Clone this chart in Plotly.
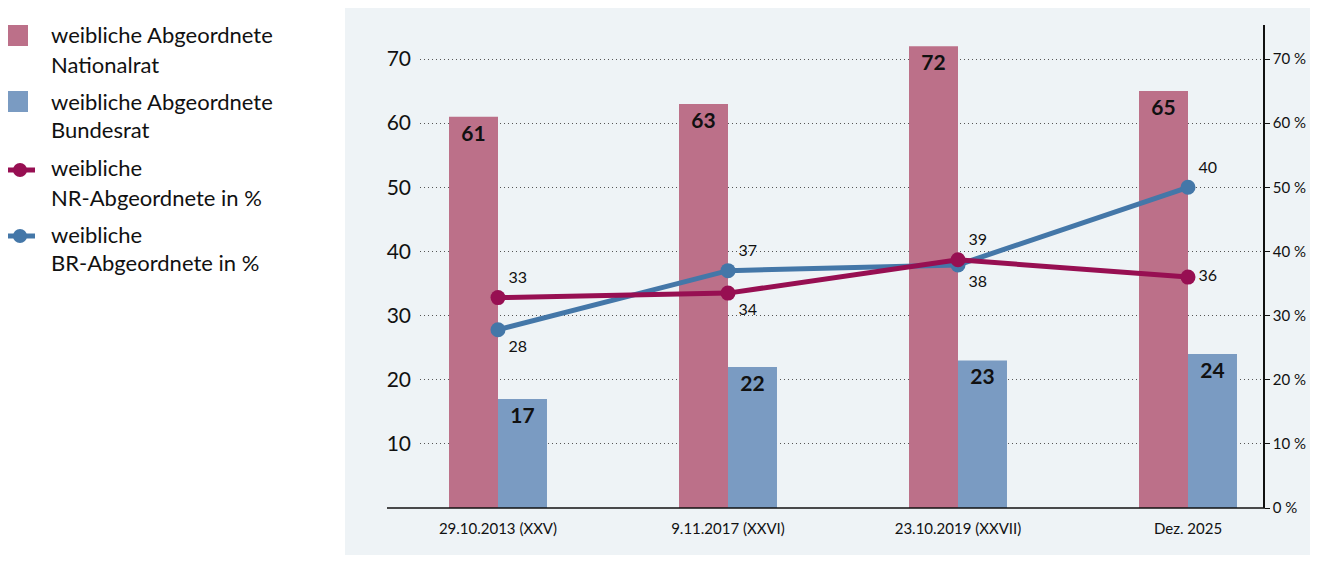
"""Frauenanteil im Parlament: Balken (Anzahl) und Linien (Anteil in %)."""

import plotly.graph_objects as go

# --- data -----------------------------------------------------------------
categories = ["29.10.2013 (XXV)", "9.11.2017 (XXVI)", "23.10.2019 (XXVII)", "Dez. 2025"]
nr_count = [61, 63, 72, 65]
br_count = [17, 22, 23, 24]
# line points as drawn, and the labels printed next to them
nr_pct = [32.8, 33.5, 38.7, 36.0]
br_pct = [27.8, 37.0, 37.9, 50.0]
nr_pct_labels = ["33", "34", "39", "36"]
br_pct_labels = ["28", "37", "38", "40"]

legend_labels = [
    ("weibliche Abgeordnete", "Nationalrat"),
    ("weibliche Abgeordnete", "Bundesrat"),
    ("weibliche", "NR-Abgeordnete in %"),
    ("weibliche", "BR-Abgeordnete in %"),
]

# --- styles ---------------------------------------------------------------
NR_BAR = "#bc7089"
BR_BAR = "#7a9bc2"
NR_LINE = "#970f52"
BR_LINE = "#4477a8"
PANEL = "#eef3f6"
FONT = "Lato"

W, H = 1318, 563
OFF = 8  # the page body margin pushes the figure 8px right and down
FIG_W, FIG_H = W - OFF, H - 2 * OFF  # keep the page from scrolling
L, R, T, B = 420, 1263, 25, 508  # plot area in page pixels
Y_TOP = (B - T) / ((B - 59) / 70)  # 70 sits at pixel 59
X_LO = (L - 498) / 230
X_HI = (R - 498) / 230
BAR_W = 0.213


def px(x):
    return (x - L) / (R - L)


def py(y):
    return (B - y) / (B - T)


xs = list(range(len(categories)))
fig = go.Figure()

for counts, color, offset in ((nr_count, NR_BAR, -BAR_W), (br_count, BR_BAR, 0)):
    fig.add_trace(go.Bar(
        x=xs, y=counts, width=BAR_W, offset=offset,
        marker=dict(color=color, line=dict(width=0)),
        text=[str(v) for v in counts], textposition="inside",
        insidetextanchor="end",
        textfont=dict(size=21, color="#111", family=FONT, weight="bold"),
        showlegend=False, hoverinfo="skip",
    ))

fig.add_trace(go.Scatter(
    x=xs, y=br_pct, yaxis="y2", mode="lines+markers+text",
    line=dict(color=BR_LINE, width=5), marker=dict(size=15, color=BR_LINE),
    text=br_pct_labels,
    textposition=["bottom right", "top right", "bottom right", "top right"],
    textfont=dict(size=16, color="#111", family=FONT),
    showlegend=False, hoverinfo="skip", cliponaxis=False,
))
fig.add_trace(go.Scatter(
    x=xs, y=nr_pct, yaxis="y2", mode="lines+markers+text",
    line=dict(color=NR_LINE, width=5), marker=dict(size=15, color=NR_LINE),
    text=nr_pct_labels,
    textposition=["top right", "bottom right", "top right", "middle right"],
    textfont=dict(size=16, color="#111", family=FONT),
    showlegend=False, hoverinfo="skip", cliponaxis=False,
))

shapes = [
    # grey panel behind the chart
    dict(type="rect", xref="paper", yref="paper", layer="below",
         x0=px(345), x1=px(W + 20), y0=py(H + 20), y1=py(5),
         fillcolor=PANEL, line=dict(width=0)),
    # baseline
    dict(type="line", xref="paper", yref="paper",
         x0=px(387), x1=px(R + 2), y0=0, y1=0,
         line=dict(color="#111", width=1.5)),
]
annotations = []

# hand-made legend on the left
for i, (l1, l2) in enumerate(legend_labels):
    cy = 35 + i * 66
    if i < 2:
        shapes.append(dict(
            type="rect", xref="paper", yref="paper",
            x0=px(7), x1=px(28), y0=py(cy - 10), y1=py(cy + 11),
            fillcolor=[NR_BAR, BR_BAR][i], line=dict(width=0)))
        ly = cy
    else:
        ly = cy + 1
        color = [NR_LINE, BR_LINE][i - 2]
        shapes.append(dict(
            type="line", xref="paper", yref="paper",
            x0=px(5), x1=px(35), y0=py(ly + 2), y1=py(ly + 2),
            line=dict(color=color, width=5)))
        shapes.append(dict(
            type="circle", xref="paper", yref="paper",
            x0=px(13), x1=px(27), y0=py(ly + 9), y1=py(ly - 5),
            fillcolor=color, line=dict(width=0)))
    for j, txt in enumerate((l1, l2)):
        annotations.append(dict(
            xref="paper", yref="paper", x=px(49), y=py(ly + j * 29),
            text=txt, showarrow=False, xanchor="left", yanchor="middle",
            font=dict(size=22, color="#111", family=FONT)))

fig.update_layout(
    width=FIG_W, height=FIG_H,
    margin=dict(l=L - OFF, r=OFF + FIG_W - R, t=T - OFF, b=OFF + FIG_H - B,
                autoexpand=False),
    paper_bgcolor="white",
    plot_bgcolor="rgba(0,0,0,0)",
    barmode="overlay",
    font=dict(family=FONT, color="#111"),
    shapes=shapes,
    annotations=annotations,
    xaxis=dict(
        range=[X_LO, X_HI], tickvals=xs, ticktext=categories,
        showgrid=False, zeroline=False, showline=False, ticks="",
        tickfont=dict(size=15, color="#111"), ticklabelstandoff=10,
        automargin=False,
    ),
    yaxis=dict(
        range=[0, Y_TOP], tickvals=[10, 20, 30, 40, 50, 60, 70],
        showgrid=True, gridcolor="#555", griddash="1px,3px", gridwidth=1,
        zeroline=False, showline=False, ticks="",
        tickfont=dict(size=21, color="#111"), ticklabelstandoff=8,
        automargin=False,
    ),
    yaxis2=dict(
        range=[0, Y_TOP], overlaying="y", side="right",
        tickvals=[0, 10, 20, 30, 40, 50, 60, 70],
        ticktext=[f"{v} %" for v in [0, 10, 20, 30, 40, 50, 60, 70]],
        showgrid=False, zeroline=False, showline=True,
        linecolor="#111", linewidth=1.5, ticks="outside", ticklen=5,
        tickcolor="#111", tickfont=dict(size=15, color="#111"),
        automargin=False,
    ),
)

fig.write_html("out.html")
